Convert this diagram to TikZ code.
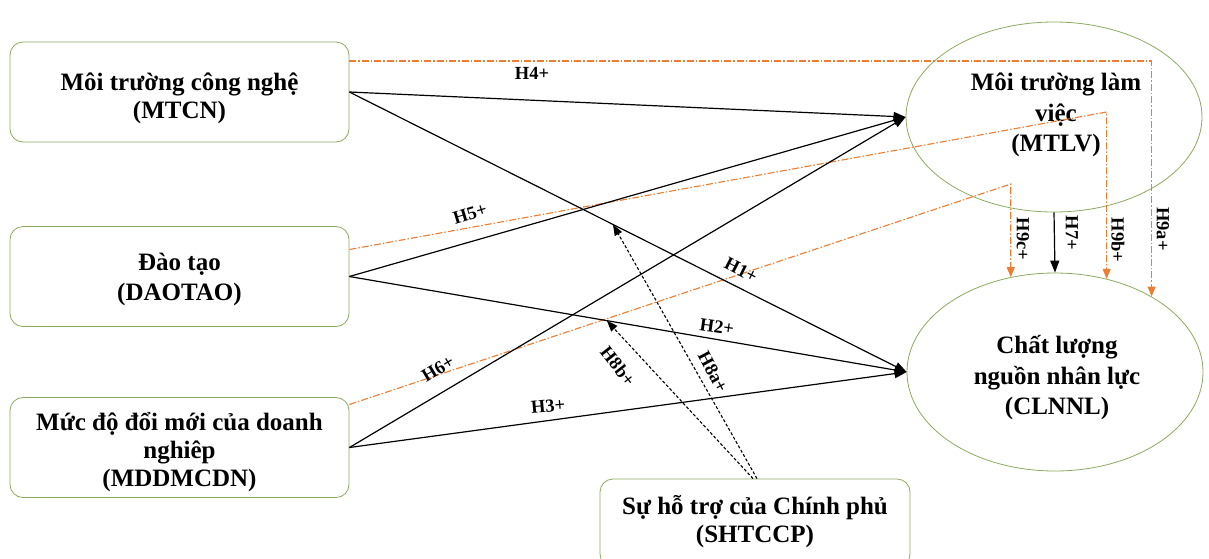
\documentclass[tikz,border=0pt]{standalone}
\usepackage{fontspec}
\setmainfont{Liberation Serif}
\usetikzlibrary{shapes.geometric,arrows.meta,calc}
\definecolor{boxgreen}{RGB}{140,170,95}
\definecolor{medorange}{RGB}{237,125,49}

\begin{document}
\begin{tikzpicture}[x=1pt,y=-1pt,
  factor/.style={draw=boxgreen, line width=0.8pt, rounded corners=13pt,
    minimum width=339pt, minimum height=100pt, inner sep=0pt},
  outcome/.style={draw=boxgreen, line width=0.8pt, ellipse, inner sep=0pt,
    minimum width=296pt},
  boxtext/.style={align=center, inner sep=0pt,
    font=\fontsize{25}{28}\selectfont\bfseries},
  ovaltext/.style={align=center, inner sep=0pt,
    font=\fontsize{25}{30.5}\selectfont\bfseries},
  direct/.style={draw=black, line width=1.2pt, -{Triangle[length=12pt,width=9pt]}},
  mediate/.style={draw=medorange, line width=1.1pt,
    dash pattern=on 7pt off 2pt on 1.5pt off 2pt,
    -{Triangle[length=10pt,width=8pt]}},
  moderate/.style={draw=black, line width=1.1pt, dash pattern=on 3pt off 2pt,
    -{Triangle[length=11pt,width=8pt]}},
  hyp/.style={font=\fontsize{18.5}{21}\selectfont\bfseries, inner sep=1pt}
]
\useasboundingbox (0,0) rectangle (1209,558);

% independent factors
\node[factor] (mtcn) at (179.5,92) {};
\node[boxtext] (mtcn-t) at ([yshift=-6pt]mtcn.center) {Môi trường công nghệ\\(MTCN)};
\node[factor] (daotao) at (179.5,276.5) {};
\node[boxtext, font=\fontsize{25}{30}\selectfont\bfseries] (daotao-t)
  at ([yshift=-3pt]daotao.center) {Đào tạo\\(DAOTAO)};
\node[factor] (mddm) at (179.5,447.5) {};
\node[boxtext] (mddm-t) at ([yshift=-5pt]mddm.center) {Mức độ đổi mới của doanh\\nghiêp\\(MDDMCDN)};
\node[factor, minimum width=310pt, minimum height=88pt] (sht) at (755,523) {};
\node[boxtext] (sht-t) at ([yshift=1pt]sht.center) {Sự hỗ trợ của Chính phủ\\(SHTCCP)};

% mediator and outcome
\node[outcome, minimum height=190pt] (mtlv) at (1054,117) {};
\node[ovaltext] (mtlv-t) at ([xshift=2pt,yshift=2pt]mtlv.center) {Môi trường làm\\việc\\(MTLV)};
\node[outcome, minimum height=198pt] (clnnl) at (1055,372) {};
\node[ovaltext] (clnnl-t) at ([xshift=2pt,yshift=-6pt]clnnl.center) {Chất lượng\\nguồn nhân lực\\(CLNNL)};

% mediation paths (dash-dot)
\coordinate (c9b) at (clnnl.61.5 |- 0,112);
\coordinate (c9c) at (clnnl.115.7 |- 0,184);
\draw[mediate] ($(mtcn.east)+(0,-31)$) -| (clnnl.38.3);
\draw[mediate] ($(daotao.east)+(0,-27)$) -- (c9b) -- (clnnl.61.5);
\draw[mediate] ($(mddm.east)+(0,-43)$) -- (c9c) -- (clnnl.115.7);

% direct paths
\draw[direct] (mtcn.east) -- (mtlv.west);
\draw[direct] (mtcn.east) -- (clnnl.west);
\draw[direct] (daotao.east) -- (mtlv.west);
\draw[direct] (daotao.east) -- (clnnl.west);
\draw[direct] (mddm.east) -- (mtlv.west);
\draw[direct] (mddm.east) -- (clnnl.west);
\draw[direct] (mtlv.south) -- (clnnl.north);

% moderation paths
\coordinate (onh1) at ($(mtcn.east)!0.473!(clnnl.west)$);
\coordinate (onh2) at ($(daotao.east)!0.462!(clnnl.west)$);
\draw[moderate] ([xshift=2pt]sht.north) -- (onh1);
\draw[moderate] ([xshift=-2pt]sht.north) -- (onh2);

% hypothesis labels
\node[hyp] (l4) at (532,73) {H4+};
\node[hyp, rotate=17] (l5) at (470,214) {H5+};
\node[hyp, rotate=-27] (l1) at (741,270) {H1+};
\node[hyp, rotate=-8] (l2) at (717,327) {H2+};
\node[hyp, rotate=31] (l6) at (438,369) {H6+};
\node[hyp, rotate=5] (l3) at (548,406) {H3+};
\node[hyp, rotate=-52] (l8b) at (618,366) {H8b+};
\node[hyp, rotate=-62] (l8a) at (713,372) {H8a+};
\node[hyp, rotate=-90] (l9c) at (1023,239) {H9c+};
\node[hyp, rotate=-90] (l7) at (1072,233) {H7+};
\node[hyp, rotate=-90] (l9b) at (1118,240) {H9b+};
\node[hyp, rotate=-90] (l9a) at (1163,229) {H9a+};
\end{tikzpicture}
\end{document}
